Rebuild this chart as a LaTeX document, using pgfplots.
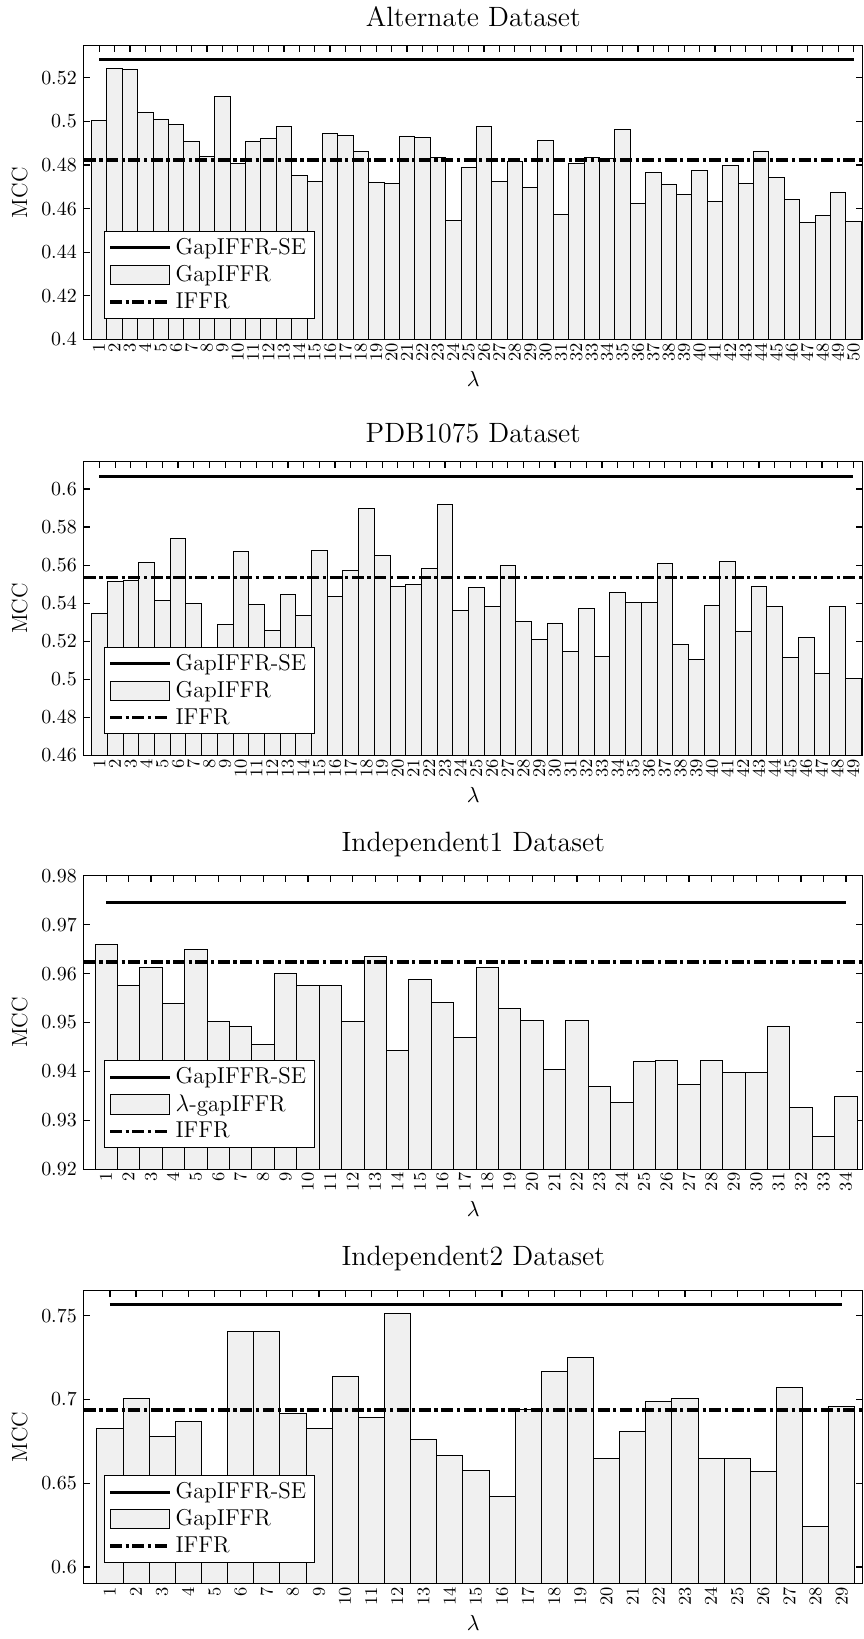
\documentclass[border=0pt]{standalone}
\usepackage{pgfplots}
\pgfplotsset{compat=1.18}
\definecolor{barfill}{RGB}{240,240,240}
\tikzset{mccdashdot/.style={dash pattern=on 6pt off 1.8pt on 1.6pt off 1.8pt}}
\pgfplotsset{
  mccpanel/.style={
    scale only axis, width=390.5pt, height=147.2pt,
    anchor=north west, xmin=0,
    tick align=inside, tick pos=both,
    major tick length=3.3pt,
    axis line style={line width=0.6pt},
    every tick/.style={black, line width=0.6pt},
    tick label style={font=\fontsize{10}{10}\selectfont},
    xticklabel style={rotate=90, anchor=east, font=\fontsize{9.5}{9.5}\selectfont, inner sep=1.5pt},
    ylabel={MCC}, xlabel={$\lambda$},
    label style={font=\fontsize{11}{12}\selectfont},
    title style={font=\fontsize{14}{16}\selectfont},
    legend cell align=left,
    legend style={at={(0,0)}, anchor=south west, xshift=10pt, yshift=10.5pt,
      font=\fontsize{11.5}{13.5}\selectfont, draw=black, line width=0.5pt,
      inner xsep=2pt, inner ysep=1.5pt},
  },
  seline/.style={black, no markers, line width=1.5pt,
    legend image code/.code={\draw[##1] (0pt,0pt) -- (30pt,0pt);}},
  iffrline/.style={black, no markers, mccdashdot, line width=1.8pt,
    legend image code/.code={\draw[##1] (0pt,0pt) -- (30pt,0pt);}},
  gapbars/.style={ybar, bar width=1, bar shift=0pt, fill=barfill, draw=black, line width=0.45pt,
    legend image code/.code={\draw[##1] (0pt,-4.8pt) rectangle (30pt,4.8pt);}},
}
\begin{document}
\begin{tikzpicture}
\path (0,0) rectangle (433pt,-819.5pt);

% Alternate
\begin{axis}[mccpanel, at={(42pt,-20.85pt)},
  title={Alternate Dataset},
  xmax=50.6, ymin=0.4, ymax=0.5346,
  xtick={1,...,50},
  ytick={0.4,0.42,0.44,0.46,0.48,0.5,0.52}]
\addplot[seline] coordinates {(1,0.5285) (50,0.5285)};
\addplot[gapbars] coordinates {
(1,0.5002) (2,0.5244) (3,0.5237) (4,0.5043) (5,0.5011) (6,0.4986) (7,0.4908) (8,0.4841) (9,0.5114) (10,0.4808)
(11,0.4907) (12,0.4922) (13,0.4977) (14,0.4750) (15,0.4725) (16,0.4943) (17,0.4936) (18,0.4863) (19,0.4718) (20,0.4715)
(21,0.4933) (22,0.4925) (23,0.4835) (24,0.4544) (25,0.4788) (26,0.4977) (27,0.4725) (28,0.4815) (29,0.4696) (30,0.4913)
(31,0.4574) (32,0.4805) (33,0.4835) (34,0.4829) (35,0.4962) (36,0.4622) (37,0.4766) (38,0.4713) (39,0.4663) (40,0.4776)
(41,0.4631) (42,0.4798) (43,0.4716) (44,0.4863) (45,0.4744) (46,0.4641) (47,0.4536) (48,0.4570) (49,0.4676) (50,0.4541)};
\addplot[iffrline, line width=1.8pt] coordinates {(0,0.4823) (50.6,0.4823)};
\legend{GapIFFR-SE, GapIFFR, IFFR}
\end{axis}

% PDB1075
\begin{axis}[mccpanel, at={(42pt,-229.35pt)},
  title={PDB1075 Dataset},
  xmax=49.6, ymin=0.46, ymax=0.6143,
  xtick={1,...,49},
  ytick={0.46,0.48,0.5,0.52,0.54,0.56,0.58,0.6}]
\addplot[seline] coordinates {(1,0.6066) (49,0.6066)};
\addplot[gapbars] coordinates {
(1,0.5348) (2,0.5516) (3,0.5518) (4,0.5614) (5,0.5414) (6,0.5741) (7,0.5400) (8,0.5150) (9,0.5288) (10,0.5672)
(11,0.5395) (12,0.5256) (13,0.5446) (14,0.5337) (15,0.5677) (16,0.5433) (17,0.5570) (18,0.5900) (19,0.5653) (20,0.5490)
(21,0.5497) (22,0.5584) (23,0.5920) (24,0.5363) (25,0.5482) (26,0.5384) (27,0.5597) (28,0.5303) (29,0.5209) (30,0.5296)
(31,0.5146) (32,0.5373) (33,0.5122) (34,0.5456) (35,0.5402) (36,0.5403) (37,0.5607) (38,0.5181) (39,0.5102) (40,0.5389)
(41,0.5620) (42,0.5254) (43,0.5486) (44,0.5384) (45,0.5115) (46,0.5218) (47,0.5033) (48,0.5382) (49,0.5005)};
\addplot[iffrline, line width=1.8pt] coordinates {(0,0.5534) (49.6,0.5534)};
\legend{GapIFFR-SE, GapIFFR, IFFR}
\end{axis}

% Independent1
\begin{axis}[mccpanel, at={(42pt,-436.85pt)},
  title={Independent1 Dataset},
  xmax=34.75, ymin=0.92, ymax=0.98,
  xtick={1,...,34},
  ytick={0.92,0.93,0.94,0.95,0.96,0.97,0.98}]
\addplot[seline] coordinates {(1,0.9746) (34,0.9746)};
\addplot[gapbars] coordinates {
(1,0.9660) (2,0.9576) (3,0.9612) (4,0.9538) (5,0.9649) (6,0.9503) (7,0.9493) (8,0.9456) (9,0.9600) (10,0.9576)
(11,0.9576) (12,0.9502) (13,0.9635) (14,0.9443) (15,0.9588) (16,0.9541) (17,0.9469) (18,0.9613) (19,0.9529) (20,0.9505)
(21,0.9405) (22,0.9505) (23,0.9369) (24,0.9336) (25,0.9420) (26,0.9422) (27,0.9374) (28,0.9422) (29,0.9397) (30,0.9397)
(31,0.9493) (32,0.9326) (33,0.9267) (34,0.9349)};
\addplot[iffrline, line width=1.8pt] coordinates {(0,0.9624) (34.75,0.9624)};
\legend{GapIFFR-SE, $\lambda$-gapIFFR, IFFR}
\end{axis}

% Independent2
\begin{axis}[mccpanel, at={(42pt,-644.65pt)},
  title={Independent2 Dataset},
  xmax=29.8, ymin=0.5899, ymax=0.7653,
  xtick={1,...,29},
  ytick={0.6,0.65,0.7,0.75}]
\addplot[seline] coordinates {(1,0.7567) (29,0.7567)};
\addplot[gapbars] coordinates {
(1,0.6827) (2,0.7006) (3,0.6779) (4,0.6871) (5,0.6480) (6,0.7409) (7,0.7409) (8,0.6917) (9,0.6829) (10,0.7137)
(11,0.6893) (12,0.7516) (13,0.6759) (14,0.6667) (15,0.6579) (16,0.6423) (17,0.6940) (18,0.7165) (19,0.7252) (20,0.6647)
(21,0.6810) (22,0.6988) (23,0.7006) (24,0.6647) (25,0.6647) (26,0.6573) (27,0.7073) (28,0.6242) (29,0.6960)};
\addplot[iffrline, line width=1.8pt] coordinates {(0,0.6938) (29.8,0.6938)};
\legend{GapIFFR-SE, GapIFFR, IFFR}
\end{axis}
\end{tikzpicture}
\end{document}
